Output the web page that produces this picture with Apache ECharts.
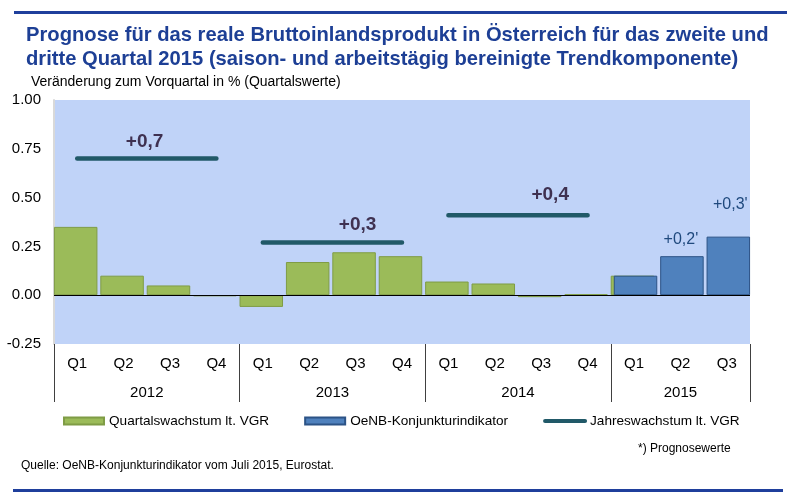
<!DOCTYPE html>
<html>
<head>
<meta charset="utf-8">
<script src="https://cdn.jsdelivr.net/npm/echarts@6/dist/echarts.min.js"></script>
<style>
html,body{margin:0;padding:0;background:#fff;}
#chart{width:795px;height:495px;}
</style>
</head>
<body>
<div id="chart"></div>
<script>
const quarters = ['Q1','Q2','Q3','Q4','Q1','Q2','Q3','Q4','Q1','Q2','Q3','Q4','Q1','Q2','Q3'];
const years = ['2012','2013','2014','2015'];
const quartersPerYear = [4,4,4,3];
const quarterlyGrowth = [0.35,0.10,0.05,-0.005,-0.06,0.17,0.22,0.20,0.07,0.06,-0.01,0.005,0.10,null,null];
const indicator = [null,null,null,null,null,null,null,null,null,null,null,null,0.10,0.20,0.30];
const indicatorLabels = ['','','','','','','','','','','','','','+0,2\'','+0,3\''];
const annualGrowth = [0.70,0.27,0.41];
const annualGrowthLabels = ['+0,7','+0,3','+0,4'];
const yTicks = [-0.25,0,0.25,0.5,0.75,1.0];

const FONT = 'Liberation Sans, Arial, sans-serif';
const names = ['Quartalswachstum lt. VGR','OeNB-Konjunkturindikator','Jahreswachstum lt. VGR'];

// year boundaries
const starts = []; let acc = 0;
quartersPerYear.forEach(n => { starts.push(acc); acc += n; });
const boundaries = starts.concat([acc]);
const yearCenters = starts.map((s,i) => s + quartersPerYear[i]/2);

const annLabelCfg = [
  {idx:1, offset:[21,-17]},
  {idx:2, offset:[2,-18]},
  {idx:2, offset:[9,-20]}
];

const lineSeries = annualGrowth.map((v, yi) => {
  const d = quarters.map((q, i) => (i >= starts[yi] && i < starts[yi] + quartersPerYear[yi]) ? v : null);
  return {
    name: names[2], type: 'line', xAxisIndex: 0, data: d,
    symbol: 'none', connectNulls: false, z: 5,
    lineStyle: {color: '#215968', width: 4.5, cap: 'round'},
    itemStyle: {color: '#215968'},
    markPoint: {
      symbol: 'circle', symbolSize: 0, silent: true,
      label: {show: true, position: 'inside', formatter: annualGrowthLabels[yi],
        offset: annLabelCfg[yi].offset, fontFamily: FONT, fontSize: 19, fontWeight: 'bold', color: '#3f3151'},
      data: [{coord: [starts[yi] + annLabelCfg[yi].idx, v]}]
    }
  };
});

const labelDist = {13: 9, 14: 24};
const indicatorData = indicator.map((v, i) => {
  if (v === null) return null;
  const o = {value: v};
  if (indicatorLabels[i]) {
    o.label = {show: true, position: 'top', distance: labelDist[i] || 8,
      offset: [i === 14 ? 2 : -1, 0],
      formatter: indicatorLabels[i], fontFamily: FONT, fontSize: 16, color: '#1f497d'};
  }
  return o;
});

const chart = echarts.init(document.getElementById('chart'), null, {renderer: 'canvas'});
chart.setOption({
  animation: false,
  backgroundColor: '#ffffff',
  title: [
    {text: 'Prognose für das reale Bruttoinlandsprodukt in Österreich für das zweite und\ndritte Quartal 2015 (saison- und arbeitstägig bereinigte Trendkomponente)',
     left: 26, top: 23, padding: 0,
     textStyle: {fontFamily: FONT, fontSize: 20.2, fontWeight: 'bold', color: '#1d3f95', lineHeight: 24}},
    {text: 'Veränderung zum Vorquartal in % (Quartalswerte)', left: 31, top: 75, padding: 0,
     textStyle: {fontFamily: FONT, fontSize: 14, fontWeight: 'normal', color: '#000'}},
    {text: '*) Prognosewerte', left: 638, top: 443, padding: 0,
     textStyle: {fontFamily: FONT, fontSize: 12, fontWeight: 'normal', color: '#000'}},
    {text: 'Quelle: OeNB-Konjunkturindikator vom Juli 2015, Eurostat.', left: 21, top: 460, padding: 0,
     textStyle: {fontFamily: FONT, fontSize: 12, fontWeight: 'normal', color: '#000'}}
  ],
  graphic: [
    {type: 'rect', shape: {x: 14, y: 11, width: 773, height: 3}, style: {fill: '#1f3f9c'}, silent: true},
    {type: 'rect', shape: {x: 13, y: 489, width: 770, height: 3}, style: {fill: '#1f3f9c'}, silent: true}
  ],
  legend: {
    left: 63, top: 414, padding: 0, itemWidth: 40, itemHeight: 7, itemGap: 35,
    textStyle: {fontFamily: FONT, fontSize: 13.6, color: '#000'},
    data: [
      {name: names[0], icon: 'rect'},
      {name: names[1], icon: 'rect'},
      {name: names[2], itemStyle: {opacity: 0}, lineStyle: {width: 4, cap: 'round', color: '#215968'}}
    ]
  },
  grid: {left: 54, right: 45, top: 100, bottom: 151, show: true, backgroundColor: '#c0d3f8', borderWidth: 0},
  xAxis: [
    {type: 'category', data: quarters, gridIndex: 0, position: 'bottom',
     axisLine: {show: false}, axisTick: {show: false},
     axisLabel: {margin: 12, fontFamily: FONT, fontSize: 15, color: '#000', interval: 0}},
    {type: 'value', gridIndex: 0, position: 'bottom', min: 0, max: acc,
     axisLine: {show: false}, splitLine: {show: false},
     axisTick: {show: true, customValues: boundaries, length: 58, inside: false, lineStyle: {color: '#404040', width: 1}},
     axisLabel: {show: true, customValues: yearCenters, margin: 41, fontFamily: FONT, fontSize: 15, color: '#000',
       formatter: v => { const k = yearCenters.indexOf(v); return k >= 0 ? years[k] : ''; }}}
  ],
  yAxis: {
    type: 'value', min: -0.25, max: 1.0, interval: 0.25,
    axisLine: {show: true, lineStyle: {color: '#d9d9d9', width: 2}},
    axisTick: {show: false}, splitLine: {show: false},
    axisLabel: {margin: 13, fontFamily: FONT, fontSize: 15, color: '#000', formatter: v => v.toFixed(2)}
  },
  series: [
    {name: names[0], type: 'bar', xAxisIndex: 0, data: quarterlyGrowth, barWidth: 43.5, barGap: '-93%',
     itemStyle: {color: '#9bbb59', borderColor: '#7f9c45', borderWidth: 1},
     markLine: {silent: true, symbol: ['none','none'], label: {show: false},
       lineStyle: {color: '#000', width: 1, type: 'solid'}, data: [{yAxis: 0}]}},
    {name: names[1], type: 'bar', xAxisIndex: 0, data: indicatorData, barWidth: 43.5, barGap: '-93%',
     itemStyle: {color: '#4f81bd', borderColor: '#2c5386', borderWidth: 1}},
    ...lineSeries
  ]
});
</script>
</body>
</html>
